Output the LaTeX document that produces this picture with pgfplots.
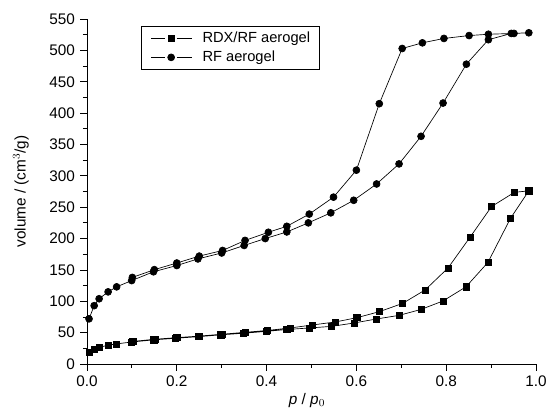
\documentclass[border=0pt]{standalone}
\usepackage{fontspec}
\setmainfont{Liberation Sans}
\usepackage{pgfplots}
\pgfplotsset{compat=1.18}
\begin{document}
\begin{tikzpicture}
\fontsize{11.5}{13}\selectfont
\begin{axis}[
  scale only axis,
  width=336.75pt, height=258.75pt,
  xmin=0, xmax=1.0, ymin=0, ymax=550,
  axis lines=left,
  axis line style={-, line width=0.6pt},
  xtick={0,0.2,0.4,0.6,0.8,1.0},
  minor xtick={0.1,0.3,0.5,0.7,0.9},
  ytick={0,50,...,550},
  minor ytick={25,75,...,525},
  tick align=outside,
  major tick length=5pt,
  minor tick length=3pt,
  tick style={black, line width=0.6pt},
  xticklabel style={/pgf/number format/.cd, fixed, fixed zerofill, precision=1},
  /pgf/number format/assume math mode=true,
  ticklabel style={font=\fontsize{11.5}{13}\selectfont},
  xlabel={\textit{p} / \textit{p}$_0$},
  ylabel={volume / (cm$^3$/g)},
  label style={font=\fontsize{11.5}{13}\selectfont},
  xlabel style={at={(axis description cs:0.49,-0.105)}, anchor=center},
  ylabel style={at={(axis description cs:-0.147,0.5)}, anchor=center},
  legend style={at={(0.1205,0.979)}, anchor=north west, draw=black, line width=0.6pt,
    font=\fontsize{11}{13}\selectfont, inner xsep=7pt, inner ysep=4pt, row sep=4.5pt,
    column sep=7.5pt, nodes={inner sep=0pt}},
  legend cell align=left,
  legend image code/.code={
    \draw[#1, mark=none] (0pt,0pt) -- (10.7pt,0pt);
    \draw[#1, mark=none] (19.3pt,0pt) -- (30.75pt,0pt);
    \draw[#1, only marks] plot coordinates {(15pt,0pt)};
  },
]
\addplot[black, line width=0.5pt, mark=square*, mark size=2.3pt, mark options={solid}] coordinates {
 (0.0045,18.5) (0.016,24) (0.027,26.5) (0.047,30) (0.065,32) (0.099,35) (0.149,38.5)
 (0.197,41) (0.247,43.5) (0.298,46.5) (0.348,49) (0.399,52) (0.445,55) (0.495,57.4)
 (0.545,60) (0.595,65.4) (0.645,71.8) (0.695,77.5) (0.744,87) (0.793,100.5)
 (0.844,123) (0.893,162) (0.943,232) (0.984,276)
 (0.952,273.7) (0.901,251) (0.853,202) (0.804,153) (0.753,118) (0.703,96.6)
 (0.651,83.4) (0.601,73.8) (0.553,67) (0.502,62.2) (0.452,57.4) (0.402,53.5)
 (0.352,50.5) (0.302,47.5) (0.25,44.5) (0.2,42) (0.152,39.5) (0.102,36)
};
\addlegendentry{RDX/RF aerogel}
\addplot[black, line width=0.5pt, mark=*, mark size=2.6pt, mark options={solid}] coordinates {
 (0.0045,72) (0.016,93) (0.027,104) (0.047,115) (0.066,123) (0.0995,133) (0.148,147)
 (0.2,157) (0.247,167.5) (0.3,177) (0.35,189) (0.397,200) (0.445,210.5) (0.493,225)
 (0.543,241) (0.594,261) (0.645,287) (0.695,319) (0.744,363) (0.793,416)
 (0.845,478) (0.894,517) (0.945,527) (0.984,528)
 (0.951,527) (0.894,525.7) (0.851,523.6) (0.795,519) (0.747,512) (0.702,503)
 (0.651,415) (0.6,309) (0.549,266) (0.495,239) (0.445,219.5) (0.404,210)
 (0.352,197) (0.302,181) (0.25,172) (0.2,161) (0.15,150.4) (0.101,138)
};
\addlegendentry{RF aerogel}
\end{axis}
\pgfresetboundingbox
\path ([xshift=-65.25pt,yshift=-39.75pt]current axis.south west) rectangle ([xshift=8.25pt,yshift=14.25pt]current axis.north east);
\end{tikzpicture}
\end{document}
